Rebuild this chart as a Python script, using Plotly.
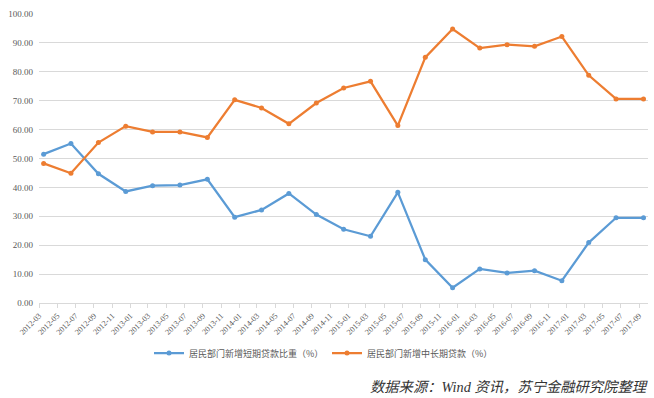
import plotly.graph_objects as go
import pandas as pd

months = ["2012-03", "2012-06", "2012-09", "2012-12",
          "2013-03", "2013-06", "2013-09", "2013-12",
          "2014-03", "2014-06", "2014-09", "2014-12",
          "2015-03", "2015-06", "2015-09", "2015-12",
          "2016-03", "2016-06", "2016-09", "2016-12",
          "2017-03", "2017-06", "2017-09"]
short_share = [51.5, 55.2, 44.7, 38.6, 40.6, 40.8, 42.8, 29.7, 32.2, 37.9, 30.6, 25.5,
               23.1, 38.3, 15.0, 5.3, 11.8, 10.4, 11.2, 7.7, 20.9, 29.5, 29.5]
long_share = [48.3, 44.9, 55.5, 61.2, 59.2, 59.2, 57.3, 70.3, 67.5, 62.0, 69.2, 74.4,
              76.7, 61.4, 85.0, 94.8, 88.2, 89.4, 88.8, 92.2, 78.8, 70.6, 70.6]
tick_months = pd.date_range("2012-03-01", "2017-09-01", freq="2MS")
tick_labels = [d.strftime("%Y-%m") for d in tick_months]
name_short = "居民部门新增短期贷款比重（%）"
name_long = "居民部门新增中长期贷款（%）"
source_text = "数据来源：Wind 资讯，苏宁金融研究院整理"

# place each quarterly point in the middle of its month slot
starts = [pd.Timestamp(m + "-01") for m in months]
x_pos = [s + (s + pd.offsets.MonthBegin(1) - s) / 2 for s in starts]

fig = go.Figure()
fig.add_trace(go.Scatter(x=x_pos, y=short_share, name=name_short, mode="lines+markers",
                         line=dict(color="#5B9BD5", width=2.25),
                         marker=dict(size=5, color="#5B9BD5")))
fig.add_trace(go.Scatter(x=x_pos, y=long_share, name=name_long, mode="lines+markers",
                         line=dict(color="#ED7D31", width=2.25),
                         marker=dict(size=5, color="#ED7D31")))

fig.update_layout(
    width=654, height=398,
    margin=dict(l=39, r=6, t=14, b=95),
    paper_bgcolor="white", plot_bgcolor="white",
    showlegend=True,
    legend=dict(orientation="h", xref="container", yref="container",
                x=149 / 654, y=1 - 353 / 398, xanchor="left", yanchor="middle",
                font=dict(family="Noto Sans CJK SC", size=9, color="#595959"),
                itemwidth=30, entrywidth=133, entrywidthmode="pixels",
                bgcolor="rgba(0,0,0,0)"),
    xaxis=dict(type="date", range=["2012-03-01", "2017-10-01"], automargin=False,
               tickmode="array", tickvals=tick_months, ticktext=tick_labels,
               tickangle=-45, tickfont=dict(family="Liberation Serif", size=8, color="#595959"),
               showgrid=False, showline=True, linecolor="#D9D9D9", linewidth=1,
               ticks="outside", ticklen=4, tickcolor="#D9D9D9", zeroline=False),
    yaxis=dict(range=[0, 100], tick0=0, dtick=10, tickformat=".2f", automargin=False,
               tickfont=dict(family="Liberation Serif", size=9, color="#595959"),
               showgrid=True, gridcolor="#D9D9D9", gridwidth=1,
               showline=False, zeroline=False, ticklabelstandoff=5),
    annotations=[dict(text=source_text, xref="paper", yref="paper",
                      x=(650 - 39) / 609, y=(302.7 - 386.7) / 288.7, xanchor="right", yanchor="middle",
                      showarrow=False,
                      font=dict(family="Liberation Serif, Noto Sans CJK SC", size=14.3,
                                color="#333333", style="italic"))],
)

fig.write_html("out.html", config={"displayModeBar": False},
               post_script="document.body.style.margin='0px';")
